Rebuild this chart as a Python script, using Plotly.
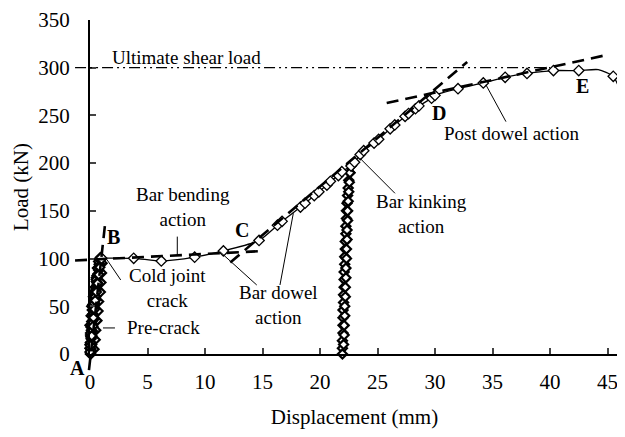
import plotly.graph_objects as go

# ---------------- data ----------------
# main load-displacement curve (marker points)
main_x = [1.0, 3.8, 6.2, 9.1, 11.6, 14.7, 16.3, 16.7, 18.3, 18.7, 19.5, 19.9, 20.6, 20.9,
          21.6, 21.9, 22.7, 23.0, 23.5, 23.8, 24.7, 25.1, 26.1, 26.5, 27.4, 27.7, 28.3, 28.6,
          29.7, 30.0, 32.0, 34.2, 36.1, 38.0, 40.3, 42.5, 45.5]
main_y = [100.5, 100.3, 97.5, 101.5, 108, 119, 135, 139, 154, 158, 166, 170, 177, 181,
          187, 191, 197, 201, 209, 213, 221, 225, 236, 240, 249, 252, 257, 260,
          268, 271, 278, 284, 290, 294, 297, 297, 291]
# line-only points of the tail (curve continues past last markers)
tail_x = [44.2, 46.4]
tail_y = [298, 266]

# pre-crack load cycles (cluster A-B)
pre_x = [0.05, 0.35, 0.00, 0.45, 0.05, 0.50, 0.00, 0.60, 0.10, 0.70, 0.15, 0.75, 0.30, 0.90,
         0.45, 0.95, 0.55, 1.00, 0.70, 1.05, 1.00,
         0.85, 0.75, 0.60, 0.55, 0.50, 0.40, 0.35, 0.25, 0.20, 0.20, 0.15, 0.10, 0.05, 0.10,
         0.15, 0.10, 0.05, 0.00, 0.05, 0.10,
         0.20, 0.15, 0.30, 0.25, 0.40, 0.35, 0.50, 0.45, 0.60, 0.55, 0.70, 0.65, 0.80, 0.75,
         0.85, 0.90,
         0.80, 0.70, 0.62, 0.52, 0.45, 0.38, 0.30, 0.25, 0.18, 0.12, 0.08, 0.05, 0.02, 0.00,
         0.05, 0.15, 0.25, 0.30, 0.38, 0.45, 0.55, 0.65, 0.75, 0.85, 0.95]
pre_y = [0, 5, 10, 15, 20, 25, 30, 35, 40, 45, 50, 55, 60, 65,
         70, 75, 80, 85, 90, 95, 100,
         94, 88, 82, 76, 70, 64, 58, 52, 46, 40, 34, 28, 22, 16,
         10, 4, 0, 6, 12, 18,
         24, 30, 36, 42, 48, 54, 60, 66, 72, 78, 84, 90, 94, 97,
         99, 101,
         91, 83, 75, 67, 60, 53, 46, 39, 32, 25, 18, 12, 6, 2,
         9, 19, 29, 38, 47, 56, 65, 74, 83, 91, 99]

# unloading / reloading cycle at ~22 mm
cyc_x = [22.75, 22.6, 22.5, 22.45, 22.4, 22.35, 22.3, 22.3, 22.25, 22.25, 22.2, 22.2, 22.15,
         22.15, 22.1, 22.1, 22.1, 22.05, 22.05, 22.0, 22.0, 22.0, 22.0, 21.95, 21.95, 21.95,
         22.05, 22.1, 22.1, 22.15, 22.15, 22.2, 22.2, 22.25, 22.25, 22.3, 22.3, 22.35, 22.35,
         22.4, 22.4, 22.45, 22.5, 22.55, 22.6, 22.75]
cyc_y = [198, 190, 182, 174, 166, 158, 150, 142, 134, 126, 118, 110, 102,
         94, 86, 78, 70, 62, 54, 46, 38, 30, 22, 14, 6, 0,
         10, 20, 30, 40, 50, 60, 70, 80, 90, 100, 110, 120, 130,
         140, 150, 160, 170, 180, 190, 198]

ultimate_load = 300

# tangent (dashed) lines: (x0, y0, x1, y1)
tangents = {
    "A-B": (-0.09, -17, 1.3, 135),
    "bending": (-1.3, 98, 15.2, 108),
    "dowel": (12.2, 96, 32.8, 306),
    "post dowel": (25.8, 263, 44.8, 313),
}
ultimate_span = (-1.3, 40.0)

# annotation labels: text, x, y, bold
labels = [
    ("Ultimate shear load", 8.43, 311, False),
    ("Bar bending<br>action", 8.06, 154, False),
    ("Cold joint<br>crack", 6.7, 69, False),
    ("Pre-crack", 6.35, 27.3, False),
    ("Bar dowel<br>action", 16.35, 51, False),
    ("Bar kinking<br>action", 28.84, 147, False),
    ("Post dowel action", 36.67, 231.3, False),
    ("A", -1.13, -14.7, True),
    ("B", 2.0, 122.6, True),
    ("C", 13.19, 130, True),
    ("D", 30.35, 252.3, True),
    ("E", 42.84, 281, True),
]
# leader lines: (x0, y0, x1, y1)
leaders = [
    (7.59, 104, 7.59, 123),
    (1.45, 99.3, 2.67, 77.6),
    (1.13, 27.3, 2.17, 27.3),
    (11.3, 107.2, 14.5, 72.3),
    (17.68, 147.5, 16.52, 72.3),
    (23.48, 205.1, 26.52, 168.4),
    (34.43, 282, 36.17, 243.5),
]

XR = [0, 46]
YR = [0, 350]
x_ticks = [0, 5, 10, 15, 20, 25, 30, 35, 40, 45]
y_ticks = [0, 50, 100, 150, 200, 250, 300, 350]

FONT = "Liberation Serif"


def px(x):
    return (x - XR[0]) / (XR[1] - XR[0])


def py(y):
    return (y - YR[0]) / (YR[1] - YR[0])


fig = go.Figure()

# pre-crack cluster
fig.add_trace(go.Scatter(
    x=pre_x, y=pre_y, mode="lines+markers",
    line=dict(color="black", width=1.5),
    marker=dict(symbol="diamond", size=7, color="white", line=dict(color="black", width=2.2)),
    showlegend=False, cliponaxis=False))

# cycle at 22 mm
fig.add_trace(go.Scatter(
    x=cyc_x, y=cyc_y, mode="lines+markers",
    line=dict(color="black", width=1.5),
    marker=dict(symbol="diamond", size=7, color="white", line=dict(color="black", width=2.2)),
    showlegend=False, cliponaxis=False))

# main curve line
line_pts = sorted(zip(main_x + tail_x, main_y + tail_y))
fig.add_trace(go.Scatter(
    x=[p[0] for p in line_pts], y=[p[1] for p in line_pts], mode="lines",
    line=dict(color="black", width=1.3, shape="spline", smoothing=0.6),
    showlegend=False))
# main curve markers
fig.add_trace(go.Scatter(
    x=main_x, y=main_y, mode="markers",
    marker=dict(symbol="diamond", size=8, color="white", line=dict(color="black", width=1.3)),
    showlegend=False, cliponaxis=False))

shapes = []
for key, (x0, y0, x1, y1) in tangents.items():
    shapes.append(dict(type="line", xref="paper", yref="paper",
                       x0=px(x0), y0=py(y0), x1=px(x1), y1=py(y1),
                       line=dict(color="black", width=2.6, dash="12px,7px")))
shapes.append(dict(type="line", xref="paper", yref="paper",
                   x0=px(ultimate_span[0]), y0=py(ultimate_load),
                   x1=px(ultimate_span[1]), y1=py(ultimate_load),
                   line=dict(color="black", width=1.3, dash="11px,4px,2px,4px,2px,4px")))
for (x0, y0, x1, y1) in leaders:
    shapes.append(dict(type="line", xref="x", yref="y", x0=x0, y0=y0, x1=x1, y1=y1,
                       line=dict(color="black", width=1)))

annotations = []
for text, x, y, bold in labels:
    annotations.append(dict(
        x=px(x), y=py(y), xref="paper", yref="paper",
        xanchor="center", yanchor="middle",
        text=f"<b>{text}</b>" if bold else text,
        showarrow=False, align="center",
        font=dict(family=FONT, size=19 if not bold else 20, color="black")))

# the page body adds an 8px offset, so the figure is 8px smaller than the window
fig.update_layout(
    width=617, height=429,
    margin=dict(l=82, r=6, t=12, b=83, autoexpand=False),
    paper_bgcolor="white", plot_bgcolor="white",
    font=dict(family=FONT, size=21, color="black"),
    shapes=shapes, annotations=annotations,
    xaxis=dict(range=XR, tickvals=x_ticks, ticks="inside", ticklen=6, tickwidth=1.5,
               showline=True, linecolor="black", linewidth=2, showgrid=False, zeroline=False,
               ticklabelstandoff=8, automargin=False,
               title=dict(text="Displacement (mm)", standoff=16,
                          font=dict(family=FONT, size=21))),
    yaxis=dict(range=YR, tickvals=y_ticks, ticks="inside", ticklen=6, tickwidth=1.5,
               showline=True, linecolor="black", linewidth=2, showgrid=False, zeroline=False,
               ticklabelstandoff=14, automargin=False,
               title=dict(text="Load (kN)", standoff=4,
                          font=dict(family=FONT, size=21))),
)

fig.write_html("out.html")
